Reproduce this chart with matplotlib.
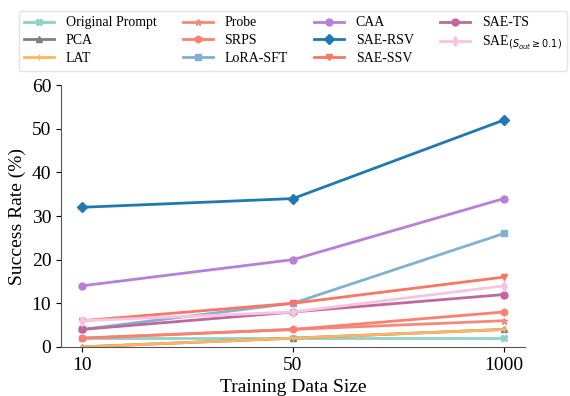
import matplotlib
matplotlib.use("Agg")
import matplotlib.pyplot as plt

sizes = ["10", "50", "1000"]
methods = ["Original Prompt", "PCA", "LAT", "Probe", "SRPS", "LoRA-SFT",
           "CAA", "SAE-RSV", "SAE-SSV", "SAE-TS", r"SAE$_{(S_{out}\geq 0.1)}$"]
original_prompt = [2, 2, 2]
pca = [0, 2, 4]
lat = [0, 2, 4]
probe = [2, 4, 6]
srps = [2, 4, 8]
lora_sft = [4, 10, 26]
caa = [14, 20, 34]
sae_rsv = [32, 34, 52]
sae_ssv = [6, 10, 16]
sae_ts = [4, 8, 12]
sae_s = [6, 8, 14]
series = [original_prompt, pca, lat, probe, srps, lora_sft, caa, sae_rsv, sae_ssv, sae_ts, sae_s]

colors = ["#8dd3c7", "#7f7f7f", "#fdb462", "#f4897a", "#fb8072", "#80b1d3",
          "#b77fd8", "#1f78b4", "#fb7464", "#c0679f", "#f7c4e0"]
markers = ["X", "^", "+", "*", "h", "s", "o", "D", "v", "o", "d"]

plt.rcParams['font.family'] = ['Liberation Serif', 'DejaVu Serif']
plt.rcParams['mathtext.fontset'] = 'dejavusans'

fig = plt.figure(figsize=(5.7, 3.96), dpi=100)
ax = fig.add_axes([0.107, 0.124, 0.814, 0.661])
x = list(range(len(sizes)))
for name, vals, c, m in zip(methods, series, colors, markers):
    ax.plot(x, vals, color=c, marker=m, markersize=5, linewidth=2, label=name)

ax.set_xlim(-0.1, 2.1)
ax.set_ylim(0, 60)
ax.set_xticks(x)
ax.set_xticklabels(sizes)
ax.set_yticks(range(0, 61, 10))
ax.tick_params(labelsize=14)
ax.set_xlabel("Training Data Size", fontsize=14)
ax.set_ylabel("Success Rate (%)", fontsize=14)
for s in ["top", "right"]:
    ax.spines[s].set_visible(False)
for s in ["left", "bottom"]:
    ax.spines[s].set_color("#555555")

fig.legend(loc="upper center", bbox_to_anchor=(0.514, 0.99), ncol=4, fontsize=10,
           frameon=True, edgecolor="#dddddd", columnspacing=1.9, handlelength=2.15,
           handletextpad=0.85, labelspacing=0.35, borderpad=0.4)

fig.savefig("out.png", dpi=100)
